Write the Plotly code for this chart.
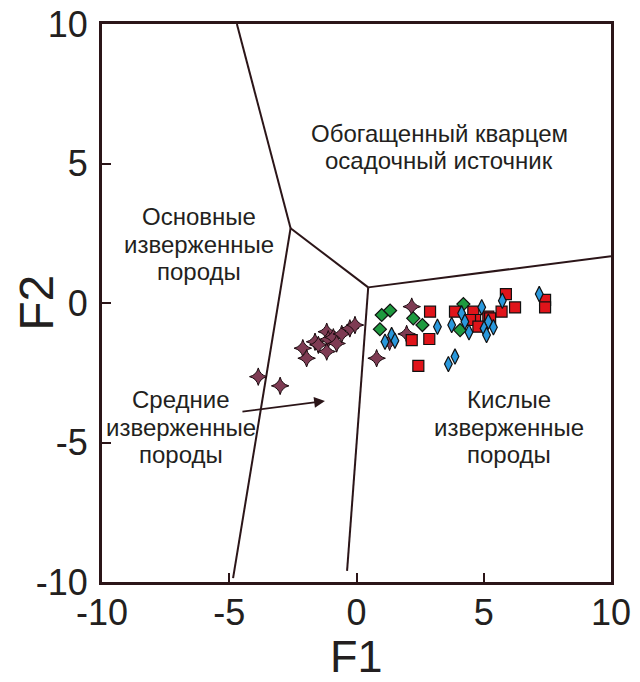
import plotly.graph_objects as go

# Sample discriminant scores (F1, F2) per rock group
stars_f1 = [-3.86, -3.0, -2.11, -1.96, -1.63, -1.50, -1.17, -1.11, -1.17, -0.91,
            -0.78, -0.58, -0.26, -0.06, 0.79, 1.30, 1.97, 2.17]
stars_f2 = [-2.64, -2.97, -1.62, -1.98, -1.39, -1.50, -1.03, -1.30, -1.74, -1.23,
            -1.45, -1.11, -0.91, -0.79, -1.98, -1.39, -1.11, -0.13]

green_f1 = [0.99, 1.32, 2.23, 0.92, 2.59, 4.20, 4.07]
green_f2 = [-0.43, -0.27, -0.55, -0.94, -0.79, -0.04, -0.97]

red_f1 = [2.89, 2.17, 2.86, 2.43, 3.87, 4.59, 4.66, 4.46, 5.18, 4.79, 5.25,
          5.70, 6.23, 5.87, 7.41, 7.41]
red_f2 = [-0.31, -1.33, -1.29, -2.25, -0.31, -0.31, -0.61, -0.61, -0.49, -0.85, -0.55,
          -0.31, -0.16, 0.32, 0.11, -0.16]

blue_f1 = [1.12, 1.38, 1.51, 3.18, 3.74, 4.13, 4.26, 4.42, 4.92, 5.18, 5.01,
           5.38, 5.11, 3.87, 3.61, 5.73, 7.18]
blue_f2 = [-1.39, -1.15, -1.35, -0.85, -0.79, -0.37, -0.67, -1.05, -0.15, -0.67, -0.91,
           -0.87, -1.15, -1.92, -2.19, 0.08, 0.32]

# Field boundaries of the discriminant diagram
boundaries = [
    ([-4.7, -2.59], [10.0, 2.68]),
    ([-2.59, 0.46], [2.68, 0.56]),
    ([0.46, 10.0], [0.56, 1.68]),
    ([-2.59, -4.85], [2.68, -9.86]),
    ([0.46, -0.37], [0.56, -9.6]),
]

# Field names: centre (F1, F2) and text lines
field_x = [3.25, -6.2, -6.9, 6.0]
field_y = [5.6, 2.1, -4.45, -4.45]
field_lines = [
    ["Обогащенный кварцем", "осадочный источник"],
    ["Основные", "изверженные", "породы"],
    ["Средние", "изверженные", "породы"],
    ["Кислые", "изверженные", "породы"],
]

tick_vals = [-10, -5, 0, 5, 10]
tick_text = ["-10", "-5", "0", "5", "10"]

ink = "#2b1518"
text_color = "#231f20"
font_family = "Liberation Sans, Arial, sans-serif"

fig = go.Figure()

for bx, by in boundaries:
    fig.add_trace(go.Scatter(x=bx, y=by, mode="lines",
                             line=dict(color=ink, width=2), hoverinfo="skip"))

fig.add_trace(go.Scatter(x=stars_f1, y=stars_f2, mode="markers",
                         marker=dict(symbol="star-diamond", size=12.5, color="#7e3b53",
                                     line=dict(color="#1a0a0e", width=1))))
fig.add_trace(go.Scatter(x=green_f1, y=green_f2, mode="markers",
                         marker=dict(symbol="diamond", size=10, color="#1e9a3f",
                                     line=dict(color="#111111", width=1.2))))
fig.add_trace(go.Scatter(x=red_f1, y=red_f2, mode="markers",
                         marker=dict(symbol="square", size=11, color="#e0141a",
                                     line=dict(color="#111111", width=1.2))))
fig.add_trace(go.Scatter(x=blue_f1, y=blue_f2, mode="markers",
                         marker=dict(symbol="diamond-tall", size=11, color="#2a98dc",
                                     line=dict(color="#111111", width=1.2))))

# Field names, one annotation per line for a tight line spacing
label_font = dict(family=font_family, size=24, color=text_color)
line_gap = 27.5
for fx, fy, lines in zip(field_x, field_y, field_lines):
    n = len(lines)
    for i, txt in enumerate(lines):
        fig.add_annotation(x=fx, y=fy, text=txt, showarrow=False, font=label_font,
                           xanchor="center", yanchor="middle",
                           yshift=((n - 1) / 2 - i) * line_gap)

# Arrow pointing into the intermediate field
fig.add_annotation(x=-1.24, y=-3.51, ax=-4.54, ay=-3.9, xref="x", yref="y",
                   axref="x", ayref="y", text="", showarrow=True, arrowhead=2,
                   arrowsize=1.2, arrowwidth=1.8, arrowcolor=ink)

title_font = dict(family=font_family, size=45, color=text_color)
fig.add_annotation(x=0.5, y=-0.133, xref="paper", yref="paper", text="F1",
                   showarrow=False, font=title_font,
                   xanchor="center", yanchor="middle")
fig.add_annotation(x=-0.13, y=0.5, xref="paper", yref="paper", text="F2",
                   showarrow=False, font=dict(title_font, size=48), textangle=-90,
                   xanchor="center", yanchor="middle")

axis_common = dict(range=[-10, 10], tickvals=tick_vals, ticktext=tick_text,
                   showgrid=False, zeroline=False, showline=True, mirror=True,
                   linecolor=ink, linewidth=3, ticks="inside", ticklen=9,
                   tickwidth=2, tickcolor=ink, automargin=False,
                   tickfont=dict(family=font_family, size=36, color=text_color))

fig.update_layout(
    width=640, height=682,
    margin=dict(l=102, r=29, t=24, b=100),
    plot_bgcolor="white", paper_bgcolor="white",
    showlegend=False,
    xaxis=dict(axis_common, ticklabelstandoff=-3),
    yaxis=dict(axis_common, ticklabelstandoff=4),
)

fig.write_html("out.html")
